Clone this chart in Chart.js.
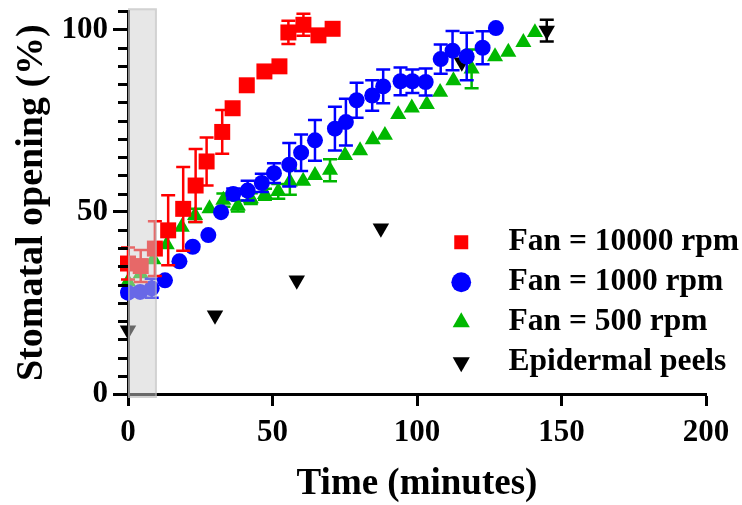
<!DOCTYPE html>
<html>
<head>
<meta charset="utf-8">
<script src="https://cdn.jsdelivr.net/npm/chart.js@4/dist/chart.umd.min.js"></script>
<style>
html,body{margin:0;padding:0;background:#fff;}
#wrap{width:742px;height:505px;}
</style>
</head>
<body>
<div id="wrap"><canvas id="c" width="742" height="505"></canvas></div>
<script>
// ---- data ----
const seriesNames = ['Fan = 10000 rpm', 'Fan = 1000 rpm', 'Fan = 500 rpm', 'Epidermal peels'];

const fan10000Time = [0, 4.4, 9.3, 13.9, 19.1, 23.4, 27.2, 32.6, 36.2, 41.1, 47.2, 52.4, 55.5, 60.7, 65.9, 70.8];
const fan10000Open = [35.8, 35.1, 39.9, 44.9, 50.8, 57.2, 63.8, 71.9, 78.4, 84.7, 88.5, 89.9, 99.2, 101.3, 98.4, 100.2];
const fan10000Err  = [4.4, 4.4, 7.5, 9.6, 11.5, 10, 6.6, 6, 1.5, 0, 0, 0, 3.2, 3, 1, 1.5];

const fan1000Time = [0, 4.2, 8.2, 12.8, 17.8, 22.4, 27.8, 32.2, 36.4, 41.4, 46.3, 50.5, 55.8, 59.9, 64.7, 71.6, 75.4, 79.1, 84.5, 88.3, 94.3, 98.4, 103, 108.2, 112.3, 117.2, 122.7, 127.3];
const fan1000Open = [27.8, 28, 29, 31.2, 36.4, 40.4, 43.6, 49.9, 54.9, 55.8, 57.9, 60.6, 62.9, 66.2, 69.6, 72.8, 74.6, 80.6, 81.9, 84.4, 85.8, 85.8, 85.6, 91.9, 94.2, 92.6, 95, 100.4];
const fan1000Err  = [1, 1, 2.6, 0, 0, 0, 0, 0, 1.5, 2.7, 2.5, 2.7, 6, 5, 5.6, 6, 6.4, 4.8, 4.2, 4.6, 3.8, 3.2, 3.7, 4, 5.4, 6.5, 4.5, 0];

const fan500Time = [0, 4.4, 8.8, 13.4, 18.6, 23.2, 28.2, 33, 38, 42.5, 47.4, 52, 56, 60.6, 64.7, 69.9, 75.1, 80.3, 84.7, 88.9, 93.5, 98.2, 103.4, 108, 112.6, 118.9, 127, 131.6, 136.8, 140.8];
const fan500Open = [30.8, 33, 36.9, 41, 45.8, 49, 50.9, 53.2, 51.6, 53.6, 54.8, 55.6, 58.2, 58.4, 60, 61.4, 65.5, 66.8, 69.8, 71, 76.7, 78.5, 79.5, 82.8, 86, 89.2, 92.6, 93.8, 96.5, 99.2];
const fan500Err  = [0, 0, 0, 0, 0, 1.8, 0, 1.8, 1.5, 1.5, 1.5, 2, 3.5, 0, 0, 3, 0, 0, 0, 0, 0, 0, 0, 0, 0, 5.3, 0, 0, 0, 0];

const peelTime = [0, 30.1, 58.4, 87.5, 115.5, 144.9];
const peelOpen = [17.5, 21.6, 31.2, 45.5, 91, 99.7];
const peelErr  = [0, 0, 0, 0, 0, 3];

const xTickValues = [0, 50, 100, 150, 200];
const yLabelValues = [0, 50, 100];
const shadedTime = [0, 10];

// ---- chart ----
const FONT = "'Liberation Serif', 'Times New Roman', serif";
const pts = (xs, ys) => xs.map((x, i) => ({ x: x, y: ys[i] }));
const errorSets = [fan10000Err, fan1000Err, fan500Err, peelErr];

const errorBarPlugin = {
  id: 'errorBars',
  beforeDatasetDraw(chart, args) {
    const errs = errorSets[args.index];
    if (!errs) return;
    const ds = chart.data.datasets[args.index];
    const xs = chart.scales.x, ys = chart.scales.y, ctx = chart.ctx;
    ctx.save();
    ctx.strokeStyle = ds.borderColor;
    ctx.lineWidth = 2.5;
    ds.data.forEach((p, j) => {
      const e = errs[j];
      if (!e) return;
      const px = xs.getPixelForValue(p.x);
      const t = ys.getPixelForValue(p.y + e), b = ys.getPixelForValue(p.y - e);
      ctx.beginPath();
      ctx.moveTo(px, t); ctx.lineTo(px, b);
      ctx.moveTo(px - 7, t); ctx.lineTo(px + 7, t);
      ctx.moveTo(px - 7, b); ctx.lineTo(px + 7, b);
      ctx.stroke();
    });
    ctx.restore();
  }
};

const bandPlugin = {
  id: 'band',
  afterDatasetsDraw(chart) {
    const xs = chart.scales.x, ys = chart.scales.y, ctx = chart.ctx;
    const x0 = xs.getPixelForValue(shadedTime[0]), x1 = xs.getPixelForValue(shadedTime[1]);
    const top = ys.getPixelForValue(ys.max) - 3, bot = ys.getPixelForValue(ys.min) + 4;
    ctx.save();
    ctx.fillStyle = 'rgba(208,208,208,0.5)';
    ctx.fillRect(x0, top, x1 - x0, bot - top);
    ctx.strokeStyle = 'rgba(185,185,185,0.45)';
    ctx.lineWidth = 2;
    ctx.strokeRect(x0 + 1, top + 1, x1 - x0 - 2, bot - top - 2);
    ctx.restore();
  }
};

const minorTickPlugin = {
  id: 'minorTicks',
  afterDraw(chart) {
    const ys = chart.scales.y, ctx = chart.ctx;
    ctx.save();
    ctx.strokeStyle = '#000';
    ctx.lineWidth = 3;
    ys.ticks.forEach(t => {
      if (yLabelValues.includes(t.value)) return;
      const py = Math.round(ys.getPixelForValue(t.value)) + 0.5;
      ctx.beginPath();
      ctx.moveTo(ys.right - 10, py);
      ctx.lineTo(ys.right, py);
      ctx.stroke();
    });
    ctx.restore();
  }
};

const legendPlace = {
  id: 'legendPlace',
  afterLayout(chart) {
    const lg = chart.legend;
    if (!lg) return;
    const w = lg.width;
    lg.left = 437; lg.right = lg.left + w;
    lg.top = 218; lg.bottom = 505;
  }
};

const mk = (name, xs, ys, style, r, color, rot) => ({
  label: '\u2002' + name,
  data: pts(xs, ys),
  showLine: false,
  pointStyle: style,
  pointRadius: r,
  pointHoverRadius: r,
  pointRotation: rot || 0,
  backgroundColor: color,
  borderColor: color,
  pointBorderWidth: 0,
  borderWidth: 0,
  clip: false
});

new Chart(document.getElementById('c'), {
  type: 'scatter',
  data: {
    datasets: [
      mk(seriesNames[0], fan10000Time, fan10000Open, 'rect', 11.3, '#ff0000'),
      mk(seriesNames[1], fan1000Time, fan1000Open, 'circle', 8, '#0000ff'),
      mk(seriesNames[2], fan500Time, fan500Open, 'triangle', 9.3, '#00b800'),
      mk(seriesNames[3], peelTime, peelOpen, 'triangle', 9.5, '#000000', 180)
    ]
  },
  options: {
    responsive: false,
    animation: false,
    devicePixelRatio: 1,
    layout: { padding: { top: 10, right: 36, left: 0, bottom: 0 } },
    scales: {
      x: {
        type: 'linear', min: 0, max: 200,
        afterFit(s) { s.height = 111; s.paddingLeft = 0; s.paddingRight = 0; },
        afterBuildTicks(s) { s.ticks = xTickValues.map(v => ({ value: v })); },
        border: { display: true, color: '#000', width: 3 },
        grid: { drawOnChartArea: false, drawTicks: true, tickLength: 12, tickWidth: 3, tickColor: '#000' },
        ticks: { padding: 8, autoSkip: false, maxRotation: 0, color: '#000',
                 font: { family: FONT, size: 31, weight: 'bold' } },
        title: { display: true, text: 'Time (minutes)', color: '#000',
                 font: { family: FONT, size: 37, weight: 'bold', lineHeight: 1 },
                 padding: { top: 0, bottom: 2 } }
      },
      y: {
        type: 'linear', min: 0, max: 105,
        afterFit(s) { s.width = 128; s.paddingTop = 0; s.paddingBottom = 0; },
        border: { display: true, color: '#000', width: 3 },
        grid: { drawOnChartArea: false, drawTicks: true, tickLength: 15, tickWidth: 3,
                tickColor: c => (c.tick && yLabelValues.includes(c.tick.value)) ? '#000' : 'rgba(0,0,0,0)' },
        ticks: { stepSize: 5, autoSkip: false, padding: 5, color: '#000',
                 font: { family: FONT, size: 31, weight: 'bold' },
                 callback: v => yLabelValues.includes(v) ? String(v) : '' },
        title: { display: true, text: 'Stomatal opening (%)', color: '#000',
                 font: { family: FONT, size: 38, weight: 'bold', lineHeight: 1 },
                 padding: { top: 13, bottom: 0 } }
      }
    },
    plugins: {
      tooltip: { enabled: false },
      legend: {
        position: 'chartArea', align: 'start',
        labels: { usePointStyle: true, boxHeight: 14, padding: 8.5, color: '#000',
                  font: { family: FONT, size: 31.5, weight: 'bold' } }
      }
    }
  },
  plugins: [errorBarPlugin, bandPlugin, minorTickPlugin, legendPlace]
});
</script>
</body>
</html>
